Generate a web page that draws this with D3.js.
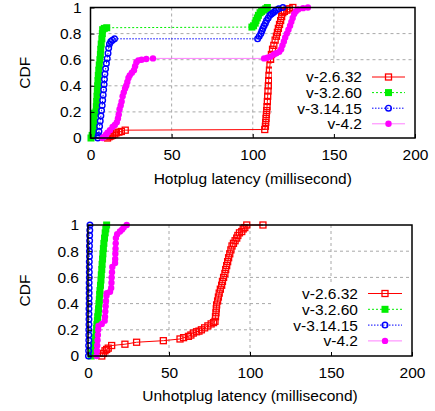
<!DOCTYPE html>
<html>
<head>
<meta charset="utf-8">
<script src="https://cdn.jsdelivr.net/npm/d3@7"></script>
<style>
  body { margin: 0; background: #fff; }
  svg { font-family: "Liberation Sans", Arial, sans-serif; }
  .tick text { font-size: 15.5px; fill: #000; }
</style>
</head>
<body>
<div id="chart"></div>
<script>
// versions and their plot styles
const versions = ['v-2.6.32', 'v-3.2.60', 'v-3.14.15', 'v-4.2'];
const colors = ['#ff0000', '#00ee00', '#0000ff', '#ff00ff'];
const markers = ['openSquare', 'square', 'openCircle', 'circle'];
const dashes = [null, '2,2', '1.5,1.5', null];

const xTicks = [0, 50, 100, 150, 200];
const yTicks = [0, 0.2, 0.4, 0.6, 0.8, 1];
const gridX = [50, 100, 150];
const gridY = [0.2, 0.4, 0.6, 0.8];

// [latency ms, cdf]
const hotV2632 = [[10.5,0],[11.5,0.01],[12.5,0.015],[13.6,0.02],[15,0.03],[16,0.04],[17.5,0.045],[19,0.05],[21.4,0.06],
  [107.4,0.065],[107.8,0.09],[108,0.12],[108.2,0.15],[108.4,0.18],[108.6,0.21],[108.8,0.24],[109,0.28],[109.2,0.32],
  [109.4,0.36],[109.6,0.4],[109.8,0.44],[110,0.48],[110.3,0.52],[110.6,0.56],[111,0.6],[111.5,0.64],[112.2,0.68],
  [113,0.71],[113.8,0.75],[114.6,0.78],[115.2,0.81],[115.8,0.84],[116.5,0.87],[117.2,0.9],[117.8,0.93],[118.5,0.96],
  [119.5,0.97],[121,0.98],[122.5,0.99],[124.7,1]];
const hotV3260 = [[0.3,0],[1,0.02],[1.8,0.04],[2,0.08],[2.1,0.12],[2.2,0.16],[2.4,0.19],[3.4,0.2],[3.6,0.24],[3.8,0.28],
  [4,0.32],[4.2,0.36],[4.4,0.4],[4.6,0.44],[4.8,0.48],[5.1,0.52],[5.4,0.56],[5.8,0.6],[6.1,0.64],[6.3,0.68],[6.6,0.72],
  [7,0.76],[7.3,0.8],[7.5,0.83],[8.5,0.84],[10,0.845],[99.5,0.85],[100.5,0.86],[101.5,0.88],[102,0.9],[102.8,0.92],
  [103.5,0.94],[104.5,0.96],[105.5,0.97],[107,0.98],[108,0.99],[109,1]];
const hotV31415 = [[4.5,0],[4.8,0.02],[5.2,0.05],[5.6,0.09],[6,0.13],[6.4,0.17],[6.8,0.21],[7.2,0.25],[7.5,0.29],
  [7.8,0.33],[8.1,0.37],[8.4,0.41],[8.6,0.45],[8.9,0.49],[9.3,0.53],[9.8,0.57],[10.3,0.61],[10.8,0.65],[11.2,0.69],
  [11.7,0.72],[12.5,0.74],[13.5,0.75],[14.8,0.76],[103,0.76],[104,0.78],[105,0.8],[105.6,0.82],[106.2,0.84],[107,0.86],
  [107.8,0.88],[108.5,0.9],[109.5,0.92],[110.5,0.94],[111.5,0.95],[112.5,0.96],[113.5,0.97],[114.5,0.98],[116,0.99],[118.5,1]];
const hotV42 = [[7.4,0],[8.5,0.01],[9.5,0.025],[10.5,0.04],[12,0.06],[13.6,0.085],[15,0.1],[16.2,0.12],[16.9,0.15],
  [17.4,0.18],[17.9,0.22],[18.6,0.25],[19.2,0.28],[19.8,0.32],[20.5,0.35],[21.3,0.38],[22,0.4],[22.7,0.43],[23.4,0.46],
  [24.2,0.48],[25.5,0.5],[26.8,0.52],[27.5,0.55],[28.3,0.58],[29.5,0.595],[31.5,0.6],[34.4,0.605],[38.5,0.61],
  [107,0.61],[109,0.615],[111,0.625],[113,0.64],[114.5,0.65],[116.3,0.66],[117.5,0.68],[118.3,0.71],[119.2,0.74],
  [120,0.77],[121,0.8],[122,0.83],[123,0.86],[123.8,0.89],[124.6,0.92],[125.5,0.95],[126.5,0.97],[128,0.985],[131,0.995],[134,1]];

// [latency ms, cdf]
const unhotV2632 = [[8.5,0],[9.5,0.02],[10.5,0.04],[11.5,0.05],[12.5,0.06],[14.6,0.08],[22.8,0.09],[30,0.105],[46.5,0.117],
  [56.8,0.13],[59,0.14],[62,0.15],[63.5,0.16],[65,0.175],[67,0.185],[68.5,0.19],[70,0.2],[72,0.215],[74,0.23],[76,0.245],
  [77.5,0.255],[78.4,0.265],[78.7,0.3],[79,0.33],[79.2,0.36],[79.4,0.39],[80,0.42],[80.5,0.45],[81,0.48],[81.7,0.51],
  [82.5,0.54],[83,0.57],[83.7,0.6],[84.5,0.63],[85,0.66],[85.6,0.69],[86.2,0.72],[86.8,0.75],[87.5,0.78],[88.2,0.81],
  [88.9,0.84],[89.8,0.86],[90.8,0.88],[91.8,0.9],[92.5,0.92],[93.5,0.94],[94.9,0.95],[95.8,0.97],[96.8,0.98],[98,1],[108,1]];
const unhotV3260 = [[2,0],[2.5,0.02],[3,0.04],[3.5,0.07],[4,0.09],[4.3,0.11],[4.7,0.14],[5,0.18],[5.3,0.21],[5.5,0.24],
  [5.8,0.27],[6,0.3],[6.3,0.33],[6.5,0.36],[6.8,0.4],[7,0.43],[7.2,0.47],[7.4,0.5],[7.7,0.54],[8,0.58],[8.2,0.62],
  [8.5,0.66],[8.7,0.7],[9,0.74],[9.2,0.78],[9.5,0.82],[9.8,0.86],[10.2,0.9],[10.6,0.94],[11,0.97],[11.5,1]];
const unhotV31415 = [[0.3,0],[0.4,0.04],[0.4,0.08],[0.5,0.12],[0.5,0.16],[0.5,0.2],[0.6,0.24],[0.6,0.28],[0.6,0.32],
  [0.6,0.36],[0.7,0.4],[0.7,0.44],[0.7,0.48],[0.7,0.52],[0.7,0.56],[0.8,0.6],[0.8,0.64],[0.8,0.68],[0.8,0.72],[0.9,0.76],
  [0.9,0.8],[0.9,0.84],[1,0.88],[1,0.92],[1.1,0.96],[1.2,1]];
const unhotV42 = [[5.3,0],[5.5,0.04],[5.7,0.08],[5.9,0.12],[6.1,0.16],[6.3,0.2],[6.5,0.23],[8.5,0.245],[10.3,0.27],
  [10.5,0.3],[10.7,0.34],[10.9,0.38],[11.1,0.42],[11.4,0.46],[11.6,0.48],[13.6,0.49],[14.3,0.52],[14.5,0.56],[14.6,0.6],
  [14.8,0.64],[15,0.68],[16.7,0.71],[16.8,0.74],[16.9,0.78],[17,0.82],[17.1,0.86],[17.2,0.9],[18,0.93],[19.7,0.95],
  [21,0.965],[22,0.98],[23.9,1]];

const svg = d3.select('#chart').append('svg')
  .attr('width', 435)
  .attr('height', 411);

// draw one marker of the given kind
const drawMarker = (g, kind, cx, cy, color) => {
  if (kind === 'openSquare') {
    g.append('rect').attr('x', cx - 3).attr('y', cy - 3).attr('width', 6).attr('height', 6)
      .attr('fill', 'none').attr('stroke', color).attr('stroke-width', 1.3);
  } else if (kind === 'square') {
    g.append('rect').attr('x', cx - 3.5).attr('y', cy - 3.5).attr('width', 7).attr('height', 7)
      .attr('fill', color);
  } else if (kind === 'openCircle') {
    g.append('circle').attr('cx', cx).attr('cy', cy).attr('r', 2.8)
      .attr('fill', 'none').attr('stroke', color).attr('stroke-width', 1.4);
  } else {
    g.append('circle').attr('cx', cx).attr('cy', cy).attr('r', 3.2).attr('fill', color);
  }
};

const drawPanel = (p) => {
  const x = d3.scaleLinear().domain([0, 200]).range([p.left, p.right]);
  const y = d3.scaleLinear().domain([0, 1]).range([p.bottom, p.top]);
  const g = svg.append('g');

  // grid
  const grid = g.append('g').attr('stroke', '#a8a8a8').attr('stroke-width', 1).attr('stroke-dasharray', '3,3');
  gridX.forEach((v) => grid.append('line')
    .attr('x1', x(v)).attr('x2', x(v)).attr('y1', p.top).attr('y2', p.bottom));
  gridY.forEach((v) => grid.append('line')
    .attr('x1', p.left).attr('x2', p.right).attr('y1', y(v)).attr('y2', y(v)));

  // curves
  p.series.forEach((data, i) => {
    const line = d3.line().x((d) => x(d[0])).y((d) => y(d[1]));
    g.append('path')
      .attr('d', line(data))
      .attr('fill', 'none')
      .attr('stroke', colors[i])
      .attr('stroke-width', 1)
      .attr('stroke-opacity', i === 3 ? 0.5 : 1)
      .attr('stroke-dasharray', dashes[i]);
    const mg = g.append('g');
    data.forEach((d) => drawMarker(mg, markers[i], x(d[0]), y(d[1]), colors[i]));
  });

  // opaque key
  g.append('rect')
    .attr('x', p.keyBox[0]).attr('y', p.keyBox[1])
    .attr('width', p.right - p.keyBox[0]).attr('height', p.bottom - p.keyBox[1])
    .attr('fill', '#fff');
  versions.forEach((name, i) => {
    const ky = p.keyY + i * p.keyStep;
    g.append('text')
      .attr('x', p.keyText).attr('y', ky).attr('dy', '0.35em')
      .attr('text-anchor', 'end').attr('font-size', 15.5)
      .text(name);
    g.append('line')
      .attr('x1', p.keyLine[0]).attr('x2', p.keyLine[1]).attr('y1', ky).attr('y2', ky)
      .attr('stroke', colors[i]).attr('stroke-width', 1)
      .attr('stroke-opacity', i === 3 ? 0.5 : 1)
      .attr('stroke-dasharray', dashes[i]);
    drawMarker(g, markers[i], (p.keyLine[0] + p.keyLine[1]) / 2, ky, colors[i]);
  });

  // axes
  g.append('g')
    .attr('transform', `translate(0,${p.bottom})`)
    .call(d3.axisBottom(x).tickValues(xTicks).tickSize(-4).tickPadding(11).tickFormat(d3.format('d')))
    .call((a) => a.select('.domain').remove());
  g.append('g')
    .attr('transform', `translate(${p.left},0)`)
    .call(d3.axisLeft(y).tickValues(yTicks).tickSize(-4).tickPadding(9).tickFormat((d) => String(d)))
    .call((a) => a.select('.domain').remove());

  // frame
  g.append('rect')
    .attr('x', p.left).attr('y', p.top)
    .attr('width', p.right - p.left).attr('height', p.bottom - p.top)
    .attr('fill', 'none').attr('stroke', '#000').attr('stroke-width', 1.5);

  // titles
  g.append('text')
    .attr('x', (p.left + p.right) / 2).attr('y', p.xTitleY)
    .attr('text-anchor', 'middle').attr('font-size', 15.5)
    .text(p.xTitle);
  g.append('text')
    .attr('transform', `translate(25,${(p.top + p.bottom) / 2}) rotate(-90)`)
    .attr('dy', '0.35em')
    .attr('text-anchor', 'middle').attr('font-size', 15.5)
    .text('CDF');
};

drawPanel({
  left: 90.5, right: 415, top: 7.5, bottom: 138,
  series: [hotV2632, hotV3260, hotV31415, hotV42],
  xTitle: 'Hotplug latency (millisecond)', xTitleY: 184,
  keyBox: [272, 63], keyText: 362, keyLine: [372, 405], keyY: 77, keyStep: 15.6,
});

drawPanel({
  left: 88, right: 412, top: 225, bottom: 356,
  series: [unhotV2632, unhotV3260, unhotV31415, unhotV42],
  xTitle: 'Unhotplug latency (millisecond)', xTitleY: 401,
  keyBox: [273, 284], keyText: 358, keyLine: [368, 402], keyY: 293.5, keyStep: 15.8,
});
</script>
</body>
</html>
